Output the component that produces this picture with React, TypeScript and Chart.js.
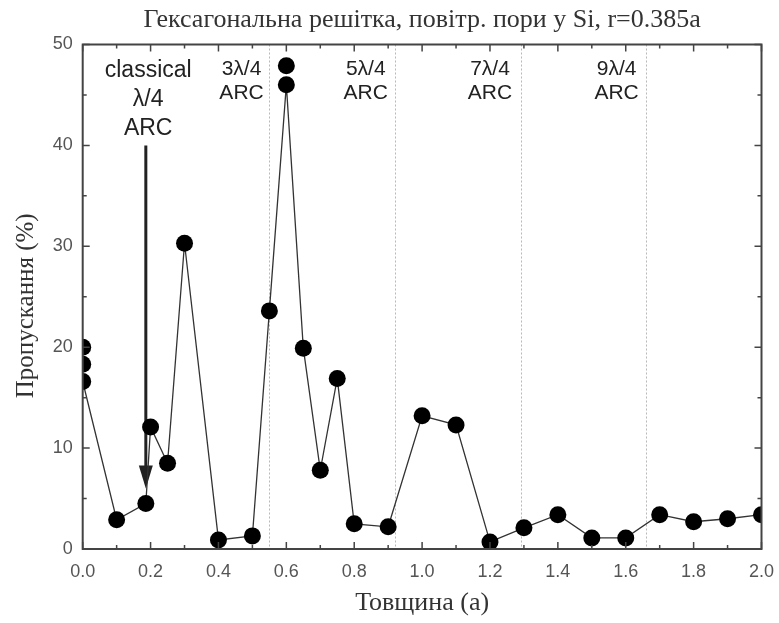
import React, { useEffect, useRef } from "react";
import { Chart, registerables } from "chart.js";

Chart.register(...registerables);

// Transmission vs. layer thickness (connected series)
const thickness = [0, 0.1, 0.186, 0.2, 0.25, 0.3, 0.4, 0.5, 0.55, 0.6, 0.65, 0.7, 0.75, 0.8, 0.9, 1.0, 1.1, 1.2, 1.3, 1.4, 1.5, 1.6, 1.7, 1.8, 1.9, 2.0];
const transmission = [16.6, 2.9, 4.5, 12.1, 8.5, 30.3, 0.9, 1.3, 23.6, 46.0, 19.9, 7.8, 16.9, 2.5, 2.2, 13.2, 12.3, 0.7, 2.1, 3.4, 1.1, 1.1, 3.4, 2.7, 3.0, 3.4];

// Additional computed points without connecting line
const extraThickness = [0, 0, 0.6];
const extraTransmission = [20.0, 18.3, 47.9];

// Anti-reflection coating thickness markers
const arcLines = [0.55, 0.92, 1.29, 1.66];
const arcLabels = ["3λ/4", "5λ/4", "7λ/4", "9λ/4"];
const arcLabelX = [0.468, 0.834, 1.2, 1.573];
const arcLabelY = [47.6, 45.15];

// Classical quarter-wave coating arrow
const classicalLabel = ["classical", "λ/4", "ARC"];
const classicalLabelX = 0.193;
const classicalLabelY = [47.4, 44.5, 41.7];
const arrowX = 0.186;
const arrowFrom = 40;
const arrowTo = 6;

const xTicksMajor = [0, 0.2, 0.4, 0.6, 0.8, 1.0, 1.2, 1.4, 1.6, 1.8, 2.0];
const yTicksMajor = [0, 10, 20, 30, 40, 50];

const title = "Гексагональна решітка, повітр. пори у Si, r=0.385a";
const xTitle = "Товщина (a)";
const yTitle = "Пропускання (%)";

const SANS = "'Liberation Sans', Arial, sans-serif";
const SERIF = "'Liberation Serif', 'Times New Roman', serif";

const decorPlugin = {
  id: "decor",
  beforeDatasetsDraw(chart: any) {
    const { ctx, chartArea: a, scales } = chart;
    const x = scales.x;
    const y = scales.y;
    ctx.save();
    // dotted ARC guide lines
    ctx.strokeStyle = "#b8b8b8";
    ctx.lineWidth = 1;
    ctx.setLineDash([2, 2]);
    arcLines.forEach((v) => {
      const px = Math.round(x.getPixelForValue(v)) + 0.5;
      ctx.beginPath();
      ctx.moveTo(px, a.top);
      ctx.lineTo(px, a.bottom);
      ctx.stroke();
    });
    ctx.setLineDash([]);

    // arrow for classical λ/4
    const ax = x.getPixelForValue(arrowX);
    const y0 = y.getPixelForValue(arrowFrom);
    const y1 = y.getPixelForValue(arrowTo);
    ctx.strokeStyle = "#222";
    ctx.fillStyle = "#222";
    ctx.lineWidth = 3;
    ctx.beginPath();
    ctx.moveTo(ax, y0);
    ctx.lineTo(ax, y1 - 20);
    ctx.stroke();
    ctx.beginPath();
    ctx.moveTo(ax - 7, y1 - 23);
    ctx.lineTo(ax + 7, y1 - 23);
    ctx.lineTo(ax, y1);
    ctx.closePath();
    ctx.fill();
    ctx.restore();
  },
  afterDatasetsDraw(chart: any) {
    const { ctx, chartArea: a, scales } = chart;
    const x = scales.x;
    const y = scales.y;
    ctx.save();

    // frame
    ctx.strokeStyle = "#444";
    ctx.lineWidth = 2;
    ctx.strokeRect(a.left, a.top, a.right - a.left, a.bottom - a.top);

    // inward ticks on all four sides
    ctx.lineWidth = 1.5;
    const tickX = (v: number, len: number) => {
      const px = x.getPixelForValue(v);
      ctx.beginPath();
      ctx.moveTo(px, a.bottom);
      ctx.lineTo(px, a.bottom - len);
      ctx.moveTo(px, a.top);
      ctx.lineTo(px, a.top + len);
      ctx.stroke();
    };
    const tickY = (v: number, len: number) => {
      const py = y.getPixelForValue(v);
      ctx.beginPath();
      ctx.moveTo(a.left, py);
      ctx.lineTo(a.left + len, py);
      ctx.moveTo(a.right, py);
      ctx.lineTo(a.right - len, py);
      ctx.stroke();
    };
    for (let i = 0; i <= 20; i++) tickX(i / 10, i % 2 === 0 ? 7 : 4);
    for (let i = 0; i <= 10; i++) tickY(i * 5, i % 2 === 0 ? 7 : 4);

    // annotations
    ctx.fillStyle = "#222";
    ctx.textAlign = "center";
    ctx.textBaseline = "middle";
    ctx.font = `23px ${SANS}`;
    classicalLabel.forEach((t, i) => {
      ctx.fillText(t, x.getPixelForValue(classicalLabelX), y.getPixelForValue(classicalLabelY[i]));
    });
    ctx.font = `21px ${SANS}`;
    arcLabels.forEach((t, i) => {
      const px = x.getPixelForValue(arcLabelX[i]);
      ctx.fillText(t, px, y.getPixelForValue(arcLabelY[0]));
      ctx.fillText("ARC", px, y.getPixelForValue(arcLabelY[1]));
    });

    // titles
    ctx.fillStyle = "#333";
    ctx.font = `26px ${SERIF}`;
    ctx.fillText(title, (a.left + a.right) / 2, 20);
    ctx.font = `25px ${SERIF}`;
    ctx.translate(26, (a.top + a.bottom) / 2 + 9);
    ctx.rotate(-Math.PI / 2);
    ctx.fillText(yTitle, 0, 0);
    ctx.restore();
  },
};

export default function App() {
  const canvasRef = useRef<HTMLCanvasElement | null>(null);

  useEffect(() => {
    if (!canvasRef.current) return;
    const chart = new Chart(canvasRef.current, {
      type: "scatter",
      data: {
        datasets: [
          {
            data: thickness.map((t, i) => ({ x: t, y: transmission[i] })),
            showLine: true,
            borderColor: "#333",
            borderWidth: 1.3,
            backgroundColor: "#000",
            pointBackgroundColor: "#000",
            pointBorderColor: "#000",
            pointRadius: 8.5,
            pointBorderWidth: 0,
            clip: 0 as any,
          },
          {
            data: extraThickness.map((t, i) => ({ x: t, y: extraTransmission[i] })),
            showLine: false,
            backgroundColor: "#000",
            pointBackgroundColor: "#000",
            pointBorderColor: "#000",
            pointRadius: 8.5,
            pointBorderWidth: 0,
            clip: 0 as any,
          },
        ],
      },
      options: {
        animation: false,
        responsive: true,
        maintainAspectRatio: false,
        layout: { padding: { top: 44.5, right: 17.5, left: 0, bottom: 0 } },
        plugins: {
          legend: { display: false },
          tooltip: { enabled: false },
          title: { display: false },
        },
        scales: {
          x: {
            type: "linear",
            min: 0,
            max: 2,
            grid: { display: false, drawTicks: false },
            border: { display: false },
            afterBuildTicks: (scale: any) => {
              scale.ticks = xTicksMajor.map((v) => ({ value: v }));
            },
            afterFit: (scale: any) => {
              scale.height = 74;
              scale.paddingLeft = 0;
              scale.paddingRight = 0;
            },
            ticks: {
              padding: 12,
              color: "#555",
              font: { family: SANS, size: 18 },
              callback: (v: any) => Number(v).toFixed(1),
            },
            title: {
              display: true,
              text: xTitle,
              color: "#333",
              font: { family: SERIF, size: 26 },
              padding: { top: 0, bottom: 4 },
            },
          },
          y: {
            type: "linear",
            min: 0,
            max: 50,
            grid: { display: false, drawTicks: false },
            border: { display: false },
            afterBuildTicks: (scale: any) => {
              scale.ticks = yTicksMajor.map((v) => ({ value: v }));
            },
            afterFit: (scale: any) => {
              scale.width = 82.7;
              scale.paddingTop = 0;
              scale.paddingBottom = 0;
            },
            ticks: {
              padding: 10,
              color: "#555",
              font: { family: SANS, size: 18 },
            },
          },
        },
      },
      plugins: [decorPlugin],
    });
    return () => chart.destroy();
  }, []);

  return (
    <div style={{ position: "absolute", left: 0, top: 0, width: 779, height: 623, background: "#fff" }}>
      <canvas ref={canvasRef} />
    </div>
  );
}
